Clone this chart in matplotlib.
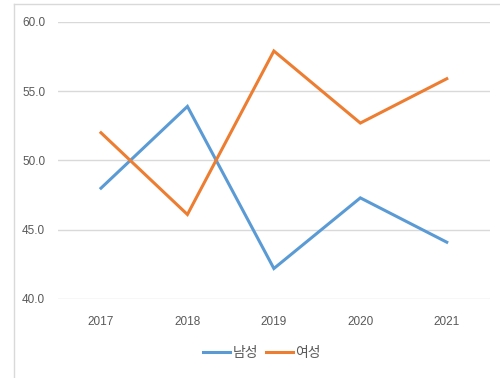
import matplotlib
matplotlib.use("Agg")
import matplotlib.pyplot as plt
from matplotlib.lines import Line2D

years = ["2017", "2018", "2019", "2020", "2021"]
male = [48.0, 53.9, 42.2, 47.3, 44.1]
female = [52.0, 46.1, 57.9, 52.7, 55.9]
series_names = ["남성", "여성"]
yticks = [40.0, 45.0, 50.0, 55.0, 60.0]

plt.rcParams['font.family'] = ['Liberation Sans', 'Noto Sans CJK KR', 'DejaVu Sans']

fig = plt.figure(figsize=(5, 3.78), dpi=100)
ax = fig.add_axes([0.1155, 0.209, 0.8645, 0.733])

x = list(range(len(years)))
ax.plot(x, male, color='#5B9BD5', lw=2.2, label=series_names[0], solid_joinstyle='miter')
ax.plot(x, female, color='#ED7D31', lw=2.2, label=series_names[1], solid_joinstyle='miter')

ax.set_xlim(-0.5, len(years) - 0.5)
ax.set_ylim(40, 60)
ax.set_yticks(yticks)
ax.set_yticklabels([f"{v:.1f}" for v in yticks])
ax.set_xticks(x)
ax.set_xticklabels(years)
ax.grid(axis='y', color='#D9D9D9', lw=1)
ax.set_axisbelow(True)
for s in ax.spines.values():
    s.set_visible(False)
ax.tick_params(length=0, labelsize=8.5, labelcolor='#595959')
ax.tick_params(axis='y', pad=9)
ax.tick_params(axis='x', pad=12)

fig.legend(loc='center', bbox_to_anchor=(262/500, 1 - 353/378), ncol=2, frameon=False,
           fontsize=10, labelcolor='#595959', handlelength=1.95, handletextpad=0.15,
           columnspacing=0.6)

y_top = 1 - 3.5/378
x_left = 13.5/500
fig.lines.append(Line2D([x_left, 1.0], [y_top, y_top], transform=fig.transFigure,
                        color='#D9D9D9', lw=1))
fig.lines.append(Line2D([x_left, x_left], [0.0, y_top], transform=fig.transFigure,
                        color='#D9D9D9', lw=1))

fig.savefig("out.png", dpi=100)
